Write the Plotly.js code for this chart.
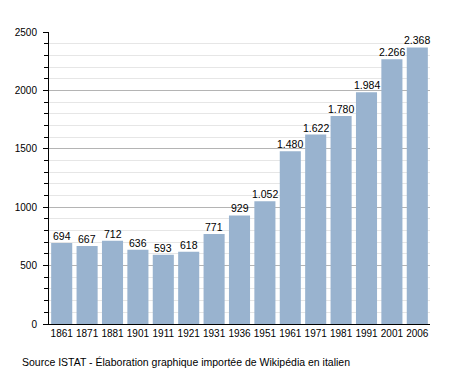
<!DOCTYPE html>
<html><head><meta charset="utf-8">
<script src="https://cdn.plot.ly/plotly-3.0.1.min.js"></script>
<style>html,body{margin:0;padding:0;background:#fff}#c{width:458px;height:373px}</style>
</head><body><div id="c"></div>
<script>
const years = ['1861','1871','1881','1901','1911','1921','1931','1936','1951','1961','1971','1981','1991','2001','2006'];
const population = [694,667,712,636,593,618,771,929,1052,1480,1622,1780,1984,2266,2368];
const yTicks = [0,500,1000,1500,2000,2500];
const sourceNote = 'Source ISTAT - Élaboration graphique importée de Wikipédia en italien';

const fam = 'Liberation Sans, Arial, sans-serif';
const font = {family:fam, size:10, color:'#000'};
const fmt = v => String(v).replace(/\B(?=(\d{3})+(?!\d))/g, '.');
Plotly.newPlot('c', [{
  type:'bar', x:years, y:population,
  marker:{color:'#99b3cf'},
  hoverinfo:'none'
}], {
  width:458, height:373,
  margin:{l:49, r:28, t:32, b:49},
  font:font,
  bargap:0.17,
  plot_bgcolor:'#fff', paper_bgcolor:'#fff',
  showlegend:false,
  xaxis:{type:'category', range:[-0.5, years.length-0.5], showline:true, linecolor:'#000', linewidth:1, ticks:'', tickangle:0, tickfont:font, showgrid:false, zeroline:false},
  yaxis:{range:[0,2500], tickvals:yTicks, ticktext:yTicks.map(String), showline:true, linecolor:'#000', linewidth:1,
    ticks:'outside', ticklen:5, tickcolor:'#000', gridcolor:'#b4b4b4', gridwidth:1, zeroline:false, tickfont:font, ticklabelstandoff:4,
    minor:{dtick:100, showgrid:true, gridcolor:'#e6e6e6', ticks:'outside', ticklen:4, tickcolor:'#000'}},
  annotations:years.map((yr,i)=>({text:fmt(population[i]), x:i, y:population[i], xref:'x', yref:'y', yanchor:'bottom', showarrow:false, yshift:-1,
    font:{family:fam, size:10.5, color:'#000'}})).concat([{text:sourceNote, xref:'paper', yref:'paper', x:-0.075, y:-0.095, yshift:-2, xanchor:'left', yanchor:'top', showarrow:false,
    font:{family:fam, size:10.5, color:'#000'}}])
}, {staticPlot:true, displayModeBar:false});
</script></body></html>
